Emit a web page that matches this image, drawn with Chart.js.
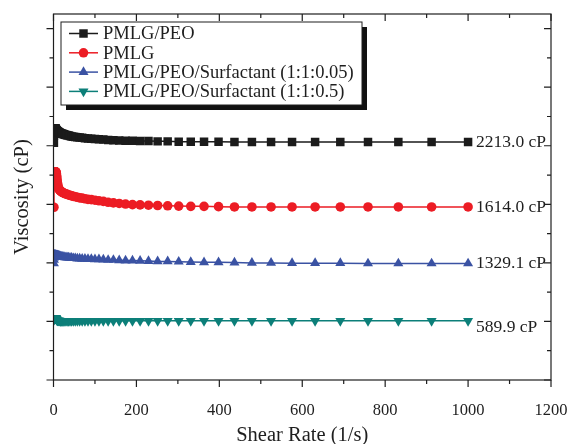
<!DOCTYPE html>
<html lang="en">
<head>
<meta charset="UTF-8">
<title>Viscosity vs Shear Rate</title>
<style>
  body { margin: 0; background: #fff; }
  canvas { display: block; }
</style>
</head>
<body>
<canvas id="ctx" width="571" height="444"></canvas>

<script src="https://cdn.jsdelivr.net/npm/chart.js"></script>
<script>
// shear rate points (1/s), log spaced as logged by the rheometer
const shearRate = [
  1, 1.096, 1.202, 1.318, 1.445, 1.585, 1.738, 1.905, 2.089, 2.291, 2.512, 2.754, 3.02, 3.311, 3.631, 3.981, 4.365, 4.786, 5.248, 5.754, 6.31, 6.918, 7.586, 8.318, 9.12,
  10, 10.96, 12.02, 13.18, 14.45, 15.85, 17.38, 19.05, 20.89, 22.91, 25.12, 27.54, 30.2, 33.11, 36.31, 39.81, 43.65, 47.86, 52.48, 57.54, 63.1, 69.18, 75.86, 83.18, 91.2,
  100, 109.6, 120.2, 131.8, 144.5, 158.5, 173.8, 190.5, 208.9, 229.1, 251.2, 275.4, 302, 331.1, 363.1, 398.1, 436.5, 478.6, 524.8, 575.4, 631, 691.8, 758.6, 831.8, 912, 1000
];

// curves are offset for clarity, so the y axis is in plot units (no tick labels)
const pmlgPeo = [
  8.10, 8.35, 8.50, 8.57, 8.60, 8.60, 8.60, 8.60, 8.60, 8.60, 8.60, 8.60, 8.60, 8.60, 8.60, 8.60, 8.59, 8.58, 8.57, 8.56, 8.54, 8.53, 8.52, 8.51, 8.50,
  8.49, 8.48, 8.47, 8.46, 8.45, 8.44, 8.43, 8.42, 8.41, 8.40, 8.39, 8.38, 8.37, 8.36, 8.35, 8.33, 8.32, 8.31, 8.30, 8.29, 8.28, 8.27, 8.26, 8.25, 8.24,
  8.23, 8.22, 8.21, 8.20, 8.19, 8.18, 8.17, 8.17, 8.16, 8.16, 8.15, 8.15, 8.14, 8.14, 8.14, 8.14, 8.13, 8.13, 8.13, 8.13, 8.13, 8.13, 8.13, 8.13, 8.13, 8.13
];
const pmlg = [
  5.90, 6.60, 6.95, 7.08, 7.11, 7.11, 7.11, 7.11, 7.11, 7.11, 7.11, 7.11, 7.11, 7.11, 7.11, 7.11, 7.11, 7.11, 7.11, 7.11, 7.09, 7.05, 6.98, 6.90, 6.80,
  6.70, 6.62, 6.56, 6.52, 6.49, 6.47, 6.45, 6.43, 6.41, 6.40, 6.38, 6.37, 6.35, 6.34, 6.32, 6.31, 6.29, 6.27, 6.26, 6.24, 6.22, 6.21, 6.19, 6.17, 6.16,
  6.14, 6.12, 6.10, 6.07, 6.05, 6.03, 6.01, 5.99, 5.98, 5.97, 5.96, 5.95, 5.94, 5.93, 5.93, 5.92, 5.91, 5.91, 5.91, 5.91, 5.91, 5.91, 5.91, 5.91, 5.91, 5.91
];
const surf005 = [
  3.98, 4.10, 4.18, 4.22, 4.24, 4.25, 4.26, 4.26, 4.26, 4.26, 4.26, 4.26, 4.26, 4.26, 4.26, 4.26, 4.26, 4.26, 4.26, 4.26, 4.26, 4.25, 4.25, 4.25, 4.25,
  4.25, 4.24, 4.24, 4.23, 4.23, 4.22, 4.22, 4.21, 4.21, 4.20, 4.20, 4.19, 4.19, 4.18, 4.18, 4.17, 4.17, 4.16, 4.16, 4.15, 4.15, 4.14, 4.14, 4.13, 4.13,
  4.12, 4.12, 4.11, 4.10, 4.10, 4.09, 4.08, 4.08, 4.07, 4.06, 4.05, 4.05, 4.04, 4.03, 4.02, 4.02, 4.01, 4.00, 4.00, 3.99, 3.99, 3.99, 3.98, 3.98, 3.98, 3.98
];
const surf05 = [
  2.05, 2.09, 2.10, 2.10, 2.10, 2.10, 2.10, 2.10, 2.10, 2.10, 2.10, 2.10, 2.10, 2.10, 2.10, 2.10, 2.10, 2.10, 2.10, 2.10, 2.10, 2.09, 2.07, 2.05, 2.03,
  2.03, 2.03, 2.03, 2.03, 2.03, 2.02, 2.02, 2.02, 2.02, 2.02, 2.02, 2.02, 2.02, 2.02, 2.02, 2.02, 2.02, 2.02, 2.02, 2.02, 2.02, 2.02, 2.02, 2.02, 2.02,
  2.02, 2.02, 2.02, 2.02, 2.02, 2.02, 2.02, 2.02, 2.02, 2.02, 2.02, 2.02, 2.02, 2.02, 2.02, 2.02, 2.02, 2.02, 2.02, 2.02, 2.02, 2.02, 2.02, 2.02, 2.02, 2.02
];

const seriesLabels = ['PMLG/PEO', 'PMLG', 'PMLG/PEO/Surfactant (1:1:0.05)', 'PMLG/PEO/Surfactant (1:1:0.5)'];
const endLabels = ['2213.0 cP', '1614.0 cP', '1329.1 cP', '589.9 cP'];

const serif = "'Liberation Serif', 'Times New Roman', serif";
const ink = '#1e1e1e';

function points(values) {
  return shearRate.map((x, i) => ({ x: x, y: values[i] }));
}

function series(label, values, color, style, radius, rotation) {
  return {
    label: label,
    data: points(values),
    borderColor: color,
    backgroundColor: color,
    borderWidth: 1.5,
    pointStyle: style,
    pointRadius: radius,
    pointRotation: rotation || 0,
    pointBorderWidth: 0,
    tension: 0
  };
}

// frame round the plot with major/minor ticks on all four sides
const framePlugin = {
  id: 'frame',
  afterDraw(chart) {
    const { ctx, chartArea: a, scales: { x, y } } = chart;
    ctx.save();
    ctx.strokeStyle = ink;
    ctx.lineWidth = 1.2;
    ctx.strokeRect(a.left, a.top, a.right - a.left, a.bottom - a.top);
    ctx.beginPath();
    x.ticks.forEach(t => {
      const px = x.getPixelForValue(t.value);
      const len = t.value % 200 === 0 ? 7 : 4;
      ctx.moveTo(px, a.bottom); ctx.lineTo(px, a.bottom + len);
      ctx.moveTo(px, a.top); ctx.lineTo(px, a.top + len);
    });
    y.ticks.forEach(t => {
      if (!Number.isInteger(t.value)) return;
      const py = y.getPixelForValue(t.value);
      const len = t.value % 2 === 0 ? 7 : 4;
      ctx.moveTo(a.left - len, py); ctx.lineTo(a.left, py);
      ctx.moveTo(a.right - len, py); ctx.lineTo(a.right, py);
    });
    ctx.stroke();
    ctx.restore();
  }
};

// viscosity values written at the end of each curve
const endLabelPlugin = {
  id: 'endLabels',
  afterDatasetsDraw(chart) {
    const ctx = chart.ctx;
    ctx.save();
    ctx.font = '17.5px ' + serif;
    ctx.fillStyle = ink;
    ctx.textBaseline = 'middle';
    ctx.textAlign = 'left';
    chart.data.datasets.forEach((ds, i) => {
      const pts = chart.getDatasetMeta(i).data;
      const last = pts[pts.length - 1];
      const dy = i === 3 ? 7 : 0;
      ctx.fillText(endLabels[i], last.x + 8, last.y + dy);
    });
    ctx.restore();
  }
};

// boxed legend with drop shadow in the upper left
const boxLegendPlugin = {
  id: 'boxLegend',
  afterDraw(chart) {
    const ctx = chart.ctx;
    const a = chart.chartArea;
    const bx = a.left + 7.5, by = a.top + 8, bw = 301, bh = 83;
    ctx.save();
    ctx.fillStyle = '#111';
    ctx.fillRect(bx + 5, by + 5, bw, bh);
    ctx.fillStyle = '#fff';
    ctx.fillRect(bx, by, bw, bh);
    ctx.strokeStyle = ink;
    ctx.lineWidth = 1;
    ctx.strokeRect(bx, by, bw, bh);
    ctx.font = '18.5px ' + serif;
    ctx.textBaseline = 'middle';
    chart.data.datasets.forEach((ds, i) => {
      const cy = by + 11.5 + i * 19.3;
      ctx.strokeStyle = ds.borderColor;
      ctx.lineWidth = 1.5;
      ctx.beginPath();
      ctx.moveTo(bx + 8, cy);
      ctx.lineTo(bx + 37, cy);
      ctx.stroke();
      ctx.fillStyle = ds.backgroundColor;
      Chart.helpers.drawPoint(ctx, {
        pointStyle: ds.pointStyle,
        radius: ds.pointRadius,
        rotation: ds.pointRotation,
        borderWidth: 0
      }, bx + 22.5, cy);
      ctx.fillStyle = ink;
      ctx.fillText(ds.label, bx + 42, cy + 1);
    });
    ctx.restore();
  }
};

const ctx = document.getElementById('ctx').getContext('2d');

let myChart = new Chart(ctx, {
  type: 'line',
  data: {
    datasets: [
      series(seriesLabels[0], pmlgPeo, '#1b1b1b', 'rect', 6),
      series(seriesLabels[1], pmlg, '#ec1c24', 'circle', 4.8),
      series(seriesLabels[2], surf005, '#3a52a3', 'triangle', 5.8),
      series(seriesLabels[3], surf05, '#0c7f79', 'triangle', 5.8, 180)
    ]
  },
  options: {
    responsive: false,
    animation: false,
    layout: { padding: { top: 14, right: 20, left: 0, bottom: 0 } },
    plugins: {
      legend: { display: false },
      tooltip: { enabled: false }
    },
    scales: {
      x: {
        type: 'linear',
        min: 0,
        max: 1200,
        afterFit: s => { s.height = 64; s.paddingLeft = 0; s.paddingRight = 0; },
        grid: { display: false },
        border: { display: false },
        ticks: {
          stepSize: 100,
          autoSkip: false,
          maxRotation: 0,
          padding: 13,
          color: ink,
          font: { family: serif, size: 16.5 },
          callback: v => (v % 200 === 0 ? v : '')
        },
        title: {
          display: true,
          text: 'Shear Rate (1/s)',
          color: ink,
          font: { family: serif, size: 20.5, lineHeight: 0.8 },
          padding: 0
        }
      },
      y: {
        min: 0,
        max: 12.5,
        afterFit: s => { s.width = 53.5; },
        grid: { display: false },
        border: { display: false },
        ticks: { display: false, stepSize: 1 },
        title: {
          display: true,
          text: 'Viscosity (cP)',
          color: ink,
          font: { family: serif, size: 20.5, lineHeight: 0.8 },
          padding: { top: 14, bottom: 0 }
        }
      }
    }
  },
  plugins: [framePlugin, endLabelPlugin, boxLegendPlugin]
});
</script>
</body>
</html>
